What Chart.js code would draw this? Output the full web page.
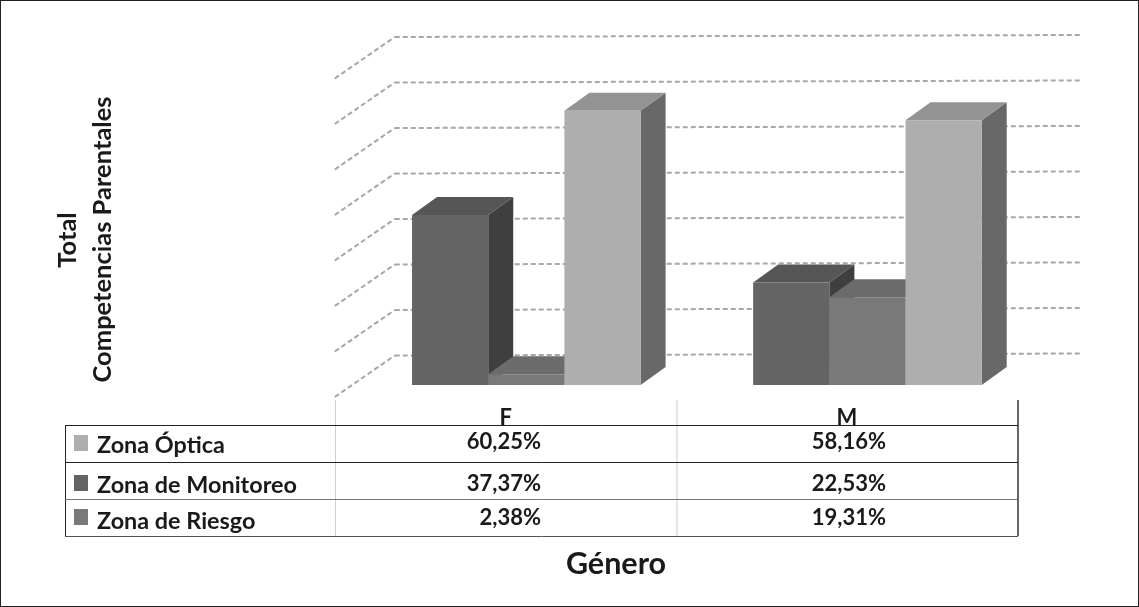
<!DOCTYPE html>
<html>
<head>
<meta charset="utf-8">
<title>Competencias Parentales por Género</title>
<script src="https://cdn.jsdelivr.net/npm/chart.js@4/dist/chart.umd.min.js"></script>
<style>
  html, body { margin: 0; padding: 0; background: #fff; }
  canvas { display: block; }
</style>
</head>
<body>
<canvas id="chart" width="1139" height="607"></canvas>
<script>
// Data
const categories = ['F', 'M'];
const zonaMonitoreo = [37.37, 22.53];
const zonaRiesgo = [2.38, 19.31];
const zonaOptica = [60.25, 58.16];
const axisMax = 70;
const axisStep = 10;
const yTitle = ['Total', 'Competencias Parentales'];
const xTitle = 'Género';

// Colours of the 3D faces
const faces = {
  monitoreo: { front: '#646464', top: '#565656', side: '#3f3f3f' },
  riesgo: { front: '#797979', top: '#6b6b6b', side: '#555555' },
  optica: { front: '#aeaeae', top: '#939393', side: '#686868' }
};

const font = (size, weight) => `${weight} ${size}px Lato, "Open Sans", sans-serif`;
const depth = { x: 25, y: 18 };

// Rows of the data table under the chart, in the order of the picture
const tableRows = [
  { label: 'Zona Óptica', values: zonaOptica, color: faces.optica.front, lineY: 462, lineColor: '#222', textY: 445, valueY: 442, swatch: 435, swatchH: 16 },
  { label: 'Zona de Monitoreo', values: zonaMonitoreo, color: faces.monitoreo.front, lineY: 499, lineColor: '#777', textY: 485, valueY: 484, swatch: 475, swatchH: 16 },
  { label: 'Zona de Riesgo', values: zonaRiesgo, color: faces.riesgo.front, lineY: 536, lineColor: '#555', textY: 521, valueY: 518, swatch: 509, swatchH: 16 }
];
const valueRight = [541, 886];

const percent = v => v.toFixed(2).replace('.', ',') + '%';

function poly(ctx, pts, fill) {
  ctx.beginPath();
  pts.forEach((p, i) => i ? ctx.lineTo(p[0], p[1]) : ctx.moveTo(p[0], p[1]));
  ctx.closePath();
  ctx.fillStyle = fill;
  ctx.fill();
}

function line(ctx, x1, y1, x2, y2, color, width) {
  ctx.strokeStyle = color;
  ctx.lineWidth = width;
  ctx.beginPath();
  ctx.moveTo(x1, y1);
  ctx.lineTo(x2, y2);
  ctx.stroke();
}

// Dashed walls and 3D bars; takes over the normal dataset drawing
const bars3d = {
  id: 'bars3d',
  beforeDatasetsDraw(chart) {
    const { ctx, chartArea, scales: { y } } = chart;
    ctx.save();
    ctx.setLineDash([5, 3]);
    y.ticks.forEach(t => {
      const py = y.getPixelForValue(t.value);
      line(ctx, chartArea.left - 21, py + 12, chartArea.left + 39, py - 29.5, '#a6a6a6', 2);
      line(ctx, chartArea.left + 39, py - 29.5, chartArea.right + 44, py - 31.5, '#a6a6a6', 2);
    });
    ctx.setLineDash([]);
    ctx.restore();

    chart.data.datasets.forEach((ds, i) => {
      chart.getDatasetMeta(i).data.forEach(bar => {
        const left = bar.x - bar.width / 2;
        const right = bar.x + bar.width / 2;
        poly(ctx, [[right, bar.y], [right + depth.x, bar.y - depth.y], [right + depth.x, bar.base - depth.y], [right, bar.base]], ds.faces.side);
        poly(ctx, [[left, bar.y], [left + depth.x, bar.y - depth.y], [right + depth.x, bar.y - depth.y], [right, bar.y]], ds.faces.top);
        bar.draw(ctx);
      });
    });
    return false;
  }
};

// Frame, axis titles and data table
const tableAndTitles = {
  id: 'tableAndTitles',
  afterDraw(chart) {
    const { ctx, scales: { x } } = chart;
    const col = i => x.getPixelForValue(i) - 20;
    ctx.save();

    line(ctx, 335.5, 400, 335.5, 536, '#cfcfcf', 1);
    line(ctx, 677, 400, 677, 536, '#cfcfcf', 1);
    line(ctx, 1018, 400, 1018, 536, '#333', 1.5);
    line(ctx, 65.5, 425, 65.5, 536, '#222', 1);
    tableRows.forEach(r => line(ctx, 65, r.lineY + 0.5, 1018, r.lineY + 0.5, r.lineColor, 1));

    ctx.fillStyle = '#1a1a1a';
    ctx.textBaseline = 'middle';
    ctx.textAlign = 'center';
    ctx.font = font(22, 'bold');
    categories.forEach((c, i) => ctx.fillText(c, col(i) - 0.5, 418));
    line(ctx, 65, 425.5, 1018, 425.5, '#222', 1);

    tableRows.forEach(r => {
      ctx.fillStyle = r.color;
      ctx.fillRect(74, r.swatch, 14, r.swatchH);
      ctx.fillStyle = '#1a1a1a';
      ctx.textAlign = 'left';
      ctx.font = font(23.4, 'bold');
      ctx.fillText(r.label, 97, r.textY);
      ctx.textAlign = 'right';
      ctx.font = font(22, 'bold');
      r.values.forEach((v, i) => ctx.fillText(percent(v), valueRight[i], r.valueY));
    });

    ctx.textAlign = 'center';
    ctx.font = font(30.5, 'bold');
    ctx.fillText(xTitle, 616, 564);

    ctx.save();
    ctx.translate(68, 240);
    ctx.rotate(-Math.PI / 2);
    ctx.font = font(25.5, 'bold');
    ctx.fillText(yTitle[0], 0, 0);
    ctx.restore();
    ctx.save();
    ctx.translate(103, 239.5);
    ctx.rotate(-Math.PI / 2);
    ctx.font = font(25.5, 'bold');
    ctx.fillText(yTitle[1], 0, 0);
    ctx.restore();

    ctx.strokeStyle = '#222';
    ctx.lineWidth = 1;
    ctx.strokeRect(0.5, 0.5, 1138, 606);
    ctx.restore();
  }
};

new Chart(document.getElementById('chart'), {
  type: 'bar',
  data: {
    labels: categories,
    datasets: [
      { label: 'Zona de Monitoreo', data: zonaMonitoreo, backgroundColor: faces.monitoreo.front, faces: faces.monitoreo },
      { label: 'Zona de Riesgo', data: zonaRiesgo, backgroundColor: faces.riesgo.front, faces: faces.riesgo },
      { label: 'Zona Óptica', data: zonaOptica, backgroundColor: faces.optica.front, faces: faces.optica }
    ]
  },
  options: {
    responsive: false,
    animation: false,
    layout: { padding: { left: 355.75, right: 101, top: 66.5, bottom: 222 } },
    plugins: { legend: { display: false }, tooltip: { enabled: false } },
    datasets: { bar: { categoryPercentage: 0.67, barPercentage: 1 } },
    scales: {
      x: { display: false },
      y: { display: false, min: 0, max: axisMax, ticks: { stepSize: axisStep } }
    }
  },
  plugins: [bars3d, tableAndTitles]
});
</script>
</body>
</html>
